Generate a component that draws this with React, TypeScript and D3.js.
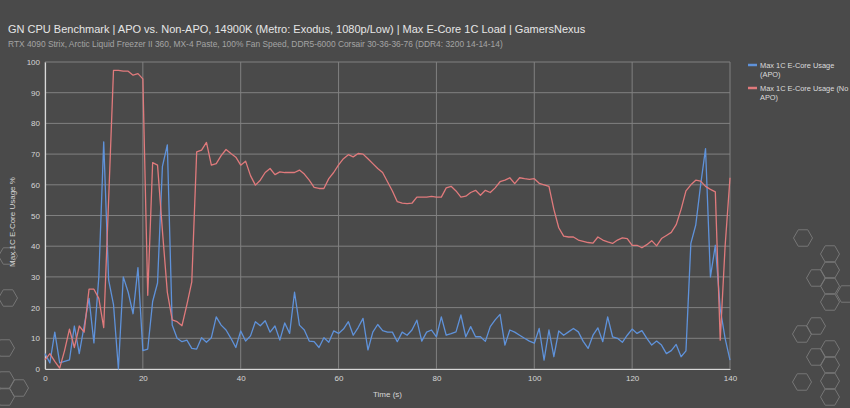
import React, { useEffect, useRef } from 'react'
import * as d3 from 'd3'

const TITLE = 'GN CPU Benchmark | APO vs. Non-APO, 14900K (Metro: Exodus, 1080p/Low) | Max E-Core 1C Load | GamersNexus'
const SUBTITLE = 'RTX 4090 Strix, Arctic Liquid Freezer II 360, MX-4 Paste, 100% Fan Speed, DDR5-6000 Corsair 30-36-36-76 (DDR4: 3200 14-14-14)'

const seriesNames = ['Max 1C E-Core Usage (APO)', 'Max 1C E-Core Usage (No APO)']
const xTicks = [0, 20, 40, 60, 80, 100, 120, 140]
const yTicks = [0, 10, 20, 30, 40, 50, 60, 70, 80, 90, 100]

// one sample per second, t = 0..140
const apo = [
  5, 2, 12, 2, 2.5, 3, 14, 5, 14, 23, 8.5, 30, 74, 29, 21, 0, 30, 25, 18, 33,
  6, 6.5, 22, 28, 66, 73, 14.3, 10, 8.9, 9.4, 6.7, 6.5, 10.2, 8.7, 10.2, 17, 14.3, 12.7, 10, 7,
  12.4, 9.1, 10.8, 15.4, 14.1, 15.7, 12, 14, 9.4, 15, 11.6, 25, 14.3, 12.7, 9.1, 8.9, 7, 10.2, 8.7, 12.4,
  11.6, 13, 15.4, 11, 13.5, 16.5, 6.2, 12, 14.5, 12.5, 12, 12, 8.9, 12, 11, 12.7, 15.9, 9.1, 12, 12.7,
  10.5, 17, 11, 11.5, 12.1, 17.6, 10.5, 13.8, 10.5, 10.5, 9, 13.8, 16, 17.8, 7.8, 12.7, 12, 11, 10, 9.1,
  8.4, 13.2, 2.9, 12.7, 4, 12.4, 11, 12.1, 13.2, 12.1, 9, 6.7, 11, 13.4, 8.9, 17, 10.5, 10, 8.7, 11,
  13, 11.6, 12.5, 10, 7.8, 9.1, 7.8, 5, 6, 8, 4, 5.9, 40.9, 46.9, 60, 71.8, 30, 40.3, 19.7, 10,
  2.9,
]
const noApo = [
  3, 5, 2.5, 0.3, 6, 13, 7, 14, 12, 26, 26, 23, 13.5, 55, 97.3, 97.3, 97, 97, 95.7, 96.2,
  94.5, 24, 67.2, 66.4, 45, 25, 16, 15.4, 14.1, 21, 28.4, 70.7, 71.3, 73.8, 66.4, 66.9, 69.5, 71.5, 70.2, 69,
  66.4, 67.7, 63, 59.9, 61.5, 64, 65.3, 63.3, 64.2, 64, 64, 64, 64.8, 63.5, 61.5, 59.2, 58.8, 58.8, 62, 64,
  66.5, 68.5, 69.8, 69.1, 70.2, 70, 68.5, 66.9, 65.3, 64, 61, 58, 54.5, 54, 53.9, 54, 56, 56, 56, 56.2,
  56, 56, 59, 59.5, 58, 56, 56.3, 57.5, 58.2, 56.6, 58.2, 57.5, 59, 61, 61.5, 62.3, 60.4, 62.3, 62, 61.8,
  62, 60.5, 60, 59.5, 52, 46, 43.3, 43, 43, 42, 41.6, 41.2, 41, 43, 42, 41.4, 40.9, 42, 42.7, 42.5,
  40.3, 40.3, 39.5, 40.5, 41.8, 40.1, 42.5, 43.5, 44.5, 47, 52, 58, 60, 61.5, 61.2, 59.5, 58.5, 57.7, 9.4, 40,
  62.3,
]
const seconds = apo.map((_, i) => i)

const colors = ['#5f92da', '#e07a7c']

// background honeycomb decoration (centres)
const hexes = [
  [803, 238], [830, 254], [830, 270], [816, 278], [830, 286], [846, 294], [830, 302],
  [816, 326], [802, 334], [830, 349], [816, 357], [830, 365], [802, 382], [830, 381], [830, 397],
  [5, 348], [5, 380], [19, 388], [5, 397], [8, 256], [8, 298],
]

export default function App() {
  const svgRef = useRef<SVGSVGElement>(null)
  const width = 850
  const height = 408

  useEffect(() => {
    const svg = d3.select(svgRef.current)
    svg.selectAll('*').remove()

    const margin = { top: 62, right: 120, bottom: 39, left: 45 }
    const innerW = width - margin.left - margin.right
    const innerH = height - margin.top - margin.bottom
    const font = '"Liberation Sans", Arial, sans-serif'

    svg.append('rect').attr('width', width).attr('height', height).attr('fill', '#4a4a4a')

    // hexagons
    const r = 9.5
    const hexPts = d3.range(6).map(k => [r * Math.cos((Math.PI / 3) * k), r * Math.sin((Math.PI / 3) * k)])
    const hexLine = d3.line().curve(d3.curveLinearClosed)
    svg.append('g').selectAll('path').data(hexes).join('path')
      .attr('transform', d => `translate(${d[0]},${d[1]})`)
      .attr('d', hexLine(hexPts as [number, number][]))
      .attr('fill', 'none').attr('stroke', '#767676').attr('stroke-width', 1)

    // titles
    svg.append('text').attr('x', 8).attr('y', 33).attr('fill', '#e6e6e6')
      .attr('font-family', font).attr('font-size', 11).text(TITLE)
    svg.append('text').attr('x', 8).attr('y', 47).attr('fill', '#a4a4a4')
      .attr('font-family', font).attr('font-size', 8.4).text(SUBTITLE)

    const g = svg.append('g').attr('transform', `translate(${margin.left},${margin.top})`)

    const x = d3.scaleLinear().domain([0, 140]).range([0, innerW])
    const y = d3.scaleLinear().domain([0, 100]).range([innerH, 0])

    // grid
    g.append('g').selectAll('line').data(yTicks).join('line')
      .attr('x1', 0).attr('x2', innerW).attr('y1', d => y(d)).attr('y2', d => y(d))
      .attr('stroke', '#808080').attr('stroke-width', 1)
    g.append('g').selectAll('line').data(xTicks).join('line')
      .attr('y1', 0).attr('y2', innerH).attr('x1', d => x(d)).attr('x2', d => x(d))
      .attr('stroke', '#808080').attr('stroke-width', 1)

    // axes
    const xAxis = g.append('g').attr('transform', `translate(0,${innerH})`)
      .call(d3.axisBottom(x).tickValues(xTicks).tickSize(0).tickPadding(6))
    const yAxis = g.append('g')
      .call(d3.axisLeft(y).tickValues(yTicks).tickSize(0).tickPadding(5))
    ;[xAxis, yAxis].forEach(a => {
      a.select('.domain').attr('stroke', '#d8d8d8').attr('stroke-width', 1.2)
      a.selectAll('text').attr('fill', '#d6d6d6').attr('font-family', font).attr('font-size', 8)
    })

    svg.append('text').attr('x', margin.left + innerW / 2).attr('y', 397).attr('text-anchor', 'middle')
      .attr('fill', '#d6d6d6').attr('font-family', font).attr('font-size', 8).text('Time (s)')
    svg.append('text').attr('transform', `translate(15,222) rotate(-90)`)
      .attr('text-anchor', 'middle').attr('fill', '#d6d6d6').attr('font-family', font).attr('font-size', 8)
      .text('Max 1C E-Core Usage %')

    // lines
    const series = [apo, noApo]
    series.forEach((vals, i) => {
      const line = d3.line<number>().x((_, k) => x(seconds[k])).y(d => y(d))
      g.append('path').datum(vals).attr('fill', 'none').attr('stroke', colors[i])
        .attr('stroke-width', 1.3).attr('stroke-linejoin', 'round').attr('d', line)
    })

    // legend
    const legendLines = [['Max 1C E-Core Usage', '(APO)'], ['Max 1C E-Core Usage (No', 'APO)']]
    const lg = svg.append('g').attr('transform', 'translate(748,65)')
    seriesNames.forEach((name, i) => {
      const row = lg.append('g').attr('transform', `translate(0,${i * 23})`)
      row.append('line').attr('x1', 0).attr('x2', 9).attr('y1', 0).attr('y2', 0)
        .attr('stroke', colors[i]).attr('stroke-width', 2.5)
      const t = row.append('text').attr('x', 12).attr('y', 3).attr('fill', '#dcdcdc')
        .attr('font-family', font).attr('font-size', 7.4)
      t.append('title').text(name)
      legendLines[i].forEach((s, j) => {
        t.append('tspan').attr('x', 12).attr('dy', j === 0 ? 0 : 8.5).text(s)
      })
    })
  }, [])

  return (
    <div>
      <svg ref={svgRef} width={width} height={height} style={{ position: 'absolute', left: 0, top: 0 }}></svg>
    </div>
  )
}
